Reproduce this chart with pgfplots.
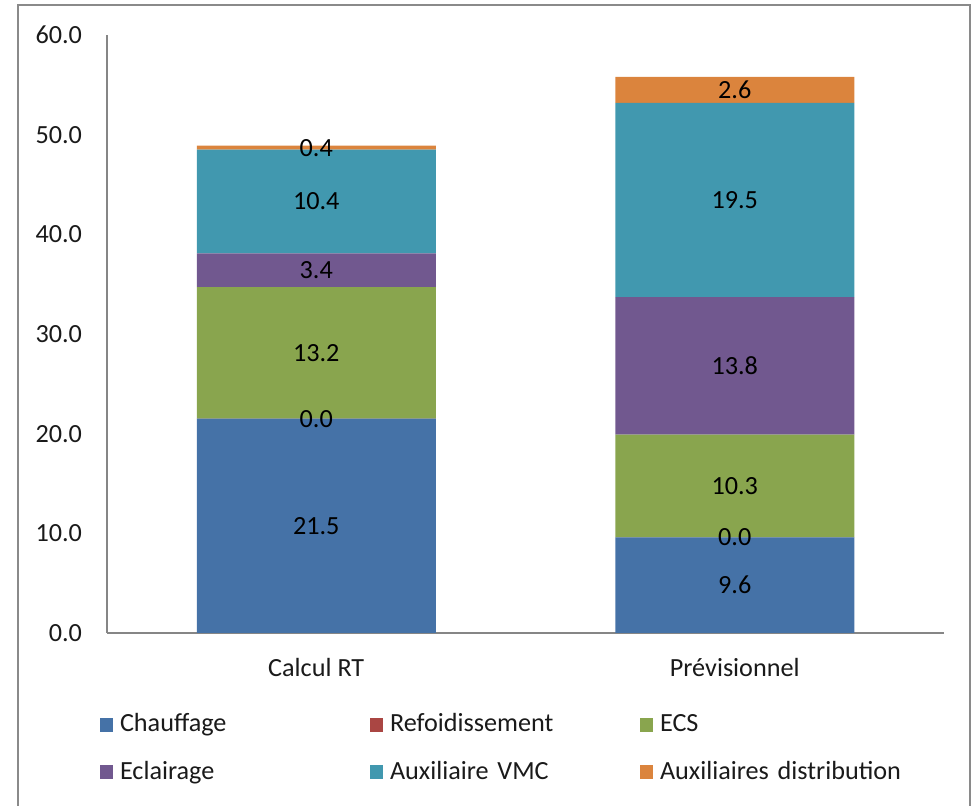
\documentclass[border=0pt]{standalone}
\usepackage{pgfplots}
\pgfplotsset{compat=1.18}
\usepackage{pgfplotstable}
\usepackage{fontspec}
\setmainfont{Carlito}
\definecolor{cBlue}{HTML}{4572A7}
\definecolor{cRed}{HTML}{AA4643}
\definecolor{cGreen}{HTML}{89A54E}
\definecolor{cPurple}{HTML}{71588F}
\definecolor{cTeal}{HTML}{4198AF}
\definecolor{cOrange}{HTML}{DB843D}
\definecolor{axgray}{HTML}{868686}
\definecolor{framegray}{HTML}{8A8A8A}
\definecolor{txt}{HTML}{1A1A1A}

\pgfplotstableread{
x chauf refr ecs ecl vmc aux
0 21.5 0.001 13.2 3.4 10.4 0.4
1 9.6 0.001 10.3 13.8 19.5 2.6
}\data

\newcommand{\fs}{\fontsize{13.1}{15.5}\selectfont}

\begin{document}
\begin{tikzpicture}
\begin{axis}[
  set layers,
  at={(53.5pt,86.5pt)}, anchor=south west,
  scale only axis,
  width=418.5pt, height=299pt,
  ybar stacked,
  bar width=119.5pt,
  xmin=-0.5, xmax=1.5,
  ymin=0, ymax=60,
  ytick={0,10,...,60},
  xtick={0,1},
  xticklabels={Calcul RT, Prévisionnel},
  axis x line*=bottom,
  axis y line*=left,
  axis line style={draw=axgray, line width=0.6pt},
  major tick length=0pt,
  clip=false,
  /pgf/number format/assume math mode=true,
  yticklabel={\pgfmathprintnumber[fixed, fixed zerofill, precision=1]{\tick}},
  yticklabel style={font=\fs, text=txt, inner sep=0pt, anchor=east, xshift=-12.3pt},
  xticklabel style={font=\fs, text=txt, inner sep=0pt, anchor=base, yshift=-21.8pt},
  visualization depends on={rawy \as \hv},
  nodes near coords={\pgfmathprintnumber[fixed, fixed zerofill, precision=1]{\hv}},
  mark layer=axis foreground,
  every node near coord/.append style={anchor=center, font=\fs, text=black, inner sep=0pt},
  legend columns=3,
  legend style={draw=none, fill=none, at={(0,0)}, anchor=north west,
    xshift=-3.5pt, yshift=-40.35pt, inner sep=0pt, outer sep=0pt,
    column sep=0pt, row sep=11.7pt,
    nodes={inner sep=0pt, outer sep=0pt, font=\fs, text=txt, text height=9pt, text depth=3pt, text width=125pt, align=left}},
  legend cell align=left,
  legend image code/.code={\fill[#1] (0pt,-3pt) rectangle (6.7pt,4pt); \path (10pt,0pt);},
]
\addplot[fill=cBlue, draw=none] table[x=x, y=chauf] {\data};
\addplot[fill=cRed, draw=none] table[x=x, y=refr] {\data};
\addplot[fill=cGreen, draw=none] table[x=x, y=ecs] {\data};
\addplot[fill=cPurple, draw=none] table[x=x, y=ecl] {\data};
\addplot[fill=cTeal, draw=none] table[x=x, y=vmc] {\data};
\addplot[fill=cOrange, draw=none] table[x=x, y=aux] {\data};
\legend{Chauffage, Refoidissement, ECS, Eclairage, Auxiliaire VMC, Auxiliaires distribution}
\end{axis}
\draw[framegray, line width=1pt] (9pt,-10pt) -- (9pt,400.5pt) -- (485pt,400.5pt) -- (485pt,-10pt);
\pgfresetboundingbox
\path[use as bounding box] (0,0) rectangle (488.5pt,403pt);
\end{tikzpicture}
\end{document}
